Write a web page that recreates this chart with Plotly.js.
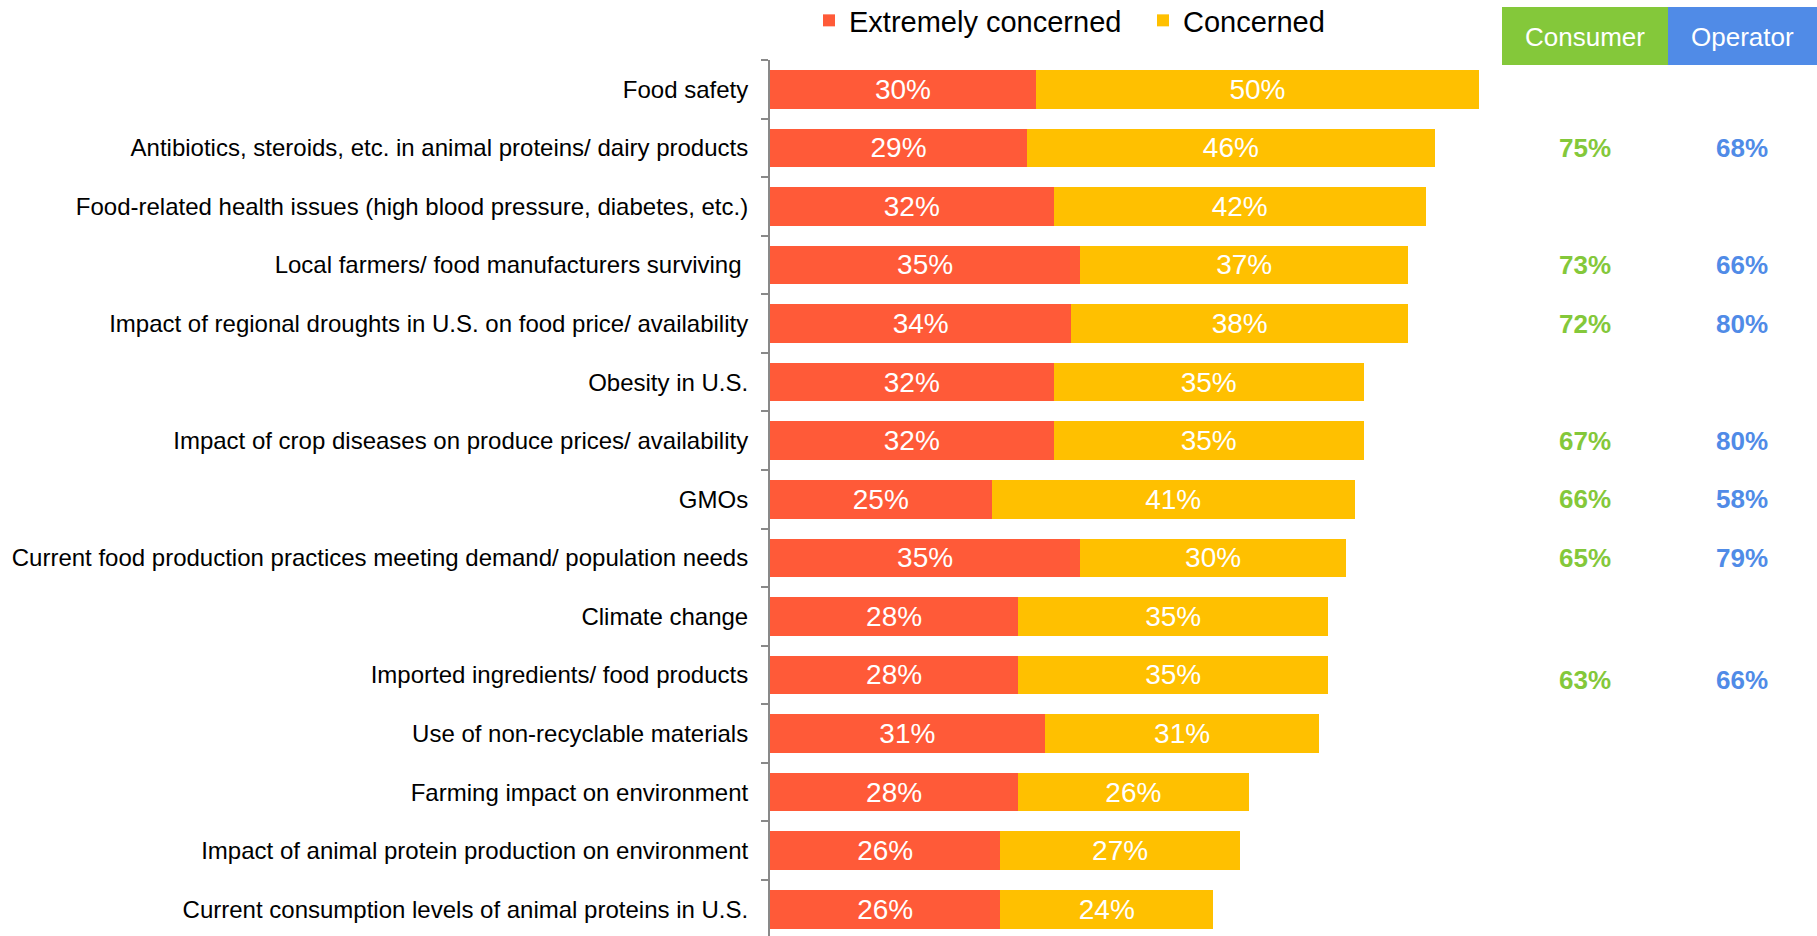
<!DOCTYPE html>
<html>
<head>
<meta charset="utf-8">
<script src="https://cdn.plot.ly/plotly-3.0.1.min.js"></script>
<style>
  html, body { margin: 0; padding: 0; background: #ffffff; }
  #chart { width: 1817px; height: 936px; }
</style>
</head>
<body>
<div id="chart"></div>
<script>
// Food-system concerns, share of respondents
const categories = [
  "Food safety",
  "Antibiotics, steroids, etc. in animal proteins/ dairy products",
  "Food-related health issues (high blood pressure, diabetes, etc.)",
  "Local farmers/ food manufacturers surviving\u00a0",
  "Impact of regional droughts in U.S. on food price/ availability",
  "Obesity in U.S.",
  "Impact of crop diseases on produce prices/ availability",
  "GMOs",
  "Current food production practices meeting demand/ population needs",
  "Climate change",
  "Imported ingredients/ food products",
  "Use of non-recyclable materials",
  "Farming impact on environment",
  "Impact of animal protein production on environment",
  "Current consumption levels of animal proteins in U.S."
];
const extremelyConcerned = [30, 29, 32, 35, 34, 32, 32, 25, 35, 28, 28, 31, 28, 26, 26];
const concerned          = [50, 46, 42, 37, 38, 35, 35, 41, 30, 35, 35, 31, 26, 27, 24];

// Combined concern, consumer vs operator (only for some topics)
const consumerPct = [null, 75, null, 73, 72, null, 67, 66, 65, null, 63, null, null, null, null];
const operatorPct = [null, 68, null, 66, 80, null, 80, 58, 79, null, 66, null, null, null, null];

const seriesNames = ["Extremely concerned", "Concerned"];
const columnHeads = ["Consumer", "Operator"];

const RED = "#FF5A38";
const YELLOW = "#FFC000";
const GREEN = "#84C83A";
const BLUE = "#508BE7";
const FONT = '"Liberation Sans", Arial, sans-serif';

const W = 1817, H = 936;
const M = { l: 770, r: 338, t: 60, b: 0, autoexpand: false };
const plotW = W - M.l - M.r;
const plotH = H - M.t - M.b;
const px = x => (x - M.l) / plotW;          // pixel x -> paper x
const py = y => (H - M.b - y) / plotH;      // pixel y -> paper y

const barText = {
  texttemplate: "%{x}%",
  textposition: "inside",
  insidetextanchor: "middle",
  constraintext: "none",
  textfont: { family: FONT, size: 28, color: "#ffffff" },
  hoverinfo: "skip"
};

const traces = [
  Object.assign({
    type: "bar", orientation: "h", name: seriesNames[0],
    y: categories, x: extremelyConcerned,
    marker: { color: RED, line: { width: 0 } }
  }, barText),
  Object.assign({
    type: "bar", orientation: "h", name: seriesNames[1],
    y: categories, x: concerned,
    marker: { color: YELLOW, line: { width: 0 } }
  }, barText)
];

const colX = [1585, 1742];
const annotations = [];
columnHeads.forEach((h, i) => {
  annotations.push({
    xref: "paper", yref: "paper", x: px(colX[i]), y: py(37),
    text: h, showarrow: false, xanchor: "center", yanchor: "middle",
    font: { family: FONT, size: 26, color: "#ffffff" }
  });
});
[consumerPct, operatorPct].forEach((vals, i) => {
  vals.forEach((v, k) => {
    if (v === null) return;
    annotations.push({
      xref: "paper", yref: "y", x: px(colX[i]), y: categories[k],
      text: "<b>" + v + "%</b>", showarrow: false, xanchor: "center", yanchor: "middle",
      yshift: k === 10 ? -5 : 0,
      font: { family: FONT, size: 26, color: i === 0 ? GREEN : BLUE }
    });
  });
});

const shapes = [
  { type: "rect", xref: "paper", yref: "paper", x0: px(1502), x1: px(1668), y0: py(65), y1: py(7),
    fillcolor: GREEN, line: { width: 0 }, layer: "below" },
  { type: "rect", xref: "paper", yref: "paper", x0: px(1668), x1: px(1817), y0: py(65), y1: py(7),
    fillcolor: BLUE, line: { width: 0 }, layer: "below" }
];

const layout = {
  width: W, height: H,
  margin: M,
  paper_bgcolor: "#ffffff",
  plot_bgcolor: "#ffffff",
  barmode: "stack",
  bargap: 0.34,
  showlegend: true,
  legend: {
    orientation: "h",
    xref: "paper", yref: "paper",
    x: px(809), y: py(-5), xanchor: "left", yanchor: "top",
    entrywidth: 289, entrywidthmode: "pixels",
    font: { family: FONT, size: 29, color: "#000000" },
    traceorder: "normal",
    bgcolor: "rgba(0,0,0,0)"
  },
  font: { family: FONT, color: "#000000" },
  xaxis: {
    range: [0, 80], visible: false, fixedrange: true
  },
  yaxis: {
    type: "category",
    categoryorder: "array", categoryarray: categories,
    range: [14.457, -0.5],
    showline: true, linecolor: "#898989", linewidth: 2,
    ticks: "outside", tickson: "boundaries", ticklen: 7, tickwidth: 2, tickcolor: "#898989",
    ticklabelstandoff: 15,
    showgrid: false, zeroline: false,
    tickfont: { family: FONT, size: 24, color: "#000000" },
    fixedrange: true
  },
  shapes: shapes,
  annotations: annotations,
  hovermode: false
};

Plotly.newPlot("chart", traces, layout, { displayModeBar: false, staticPlot: true });
</script>
</body>
</html>
